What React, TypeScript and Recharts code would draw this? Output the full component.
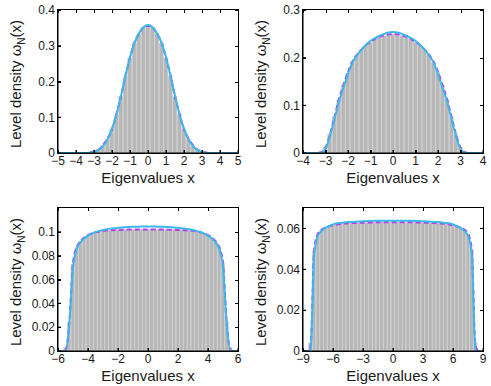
import { ComposedChart, Bar, Line, XAxis, YAxis } from "recharts";

// panel 1: x = -5..5, step 0.25
const xs1 = [
  -5, -4.75, -4.5, -4.25, -4, -3.75, -3.5, -3.25, -3, -2.75, -2.5, -2.25, -2, -1.75, -1.5, -1.25, -1, -0.75, -0.5, -0.25,
  0, 0.25, 0.5, 0.75, 1, 1.25, 1.5, 1.75, 2, 2.25, 2.5, 2.75, 3, 3.25, 3.5, 3.75, 4, 4.25, 4.5, 4.75, 5,
];
const hist1 = [
  0, 0, 0, 0, 0, 0, 0.001, 0.002, 0.005, 0.01, 0.021, 0.039, 0.067, 0.106, 0.159, 0.213, 0.265, 0.306, 0.333, 0.35,
  0.355, 0.351, 0.334, 0.307, 0.266, 0.215, 0.158, 0.108, 0.066, 0.04, 0.02, 0.011, 0.005, 0.002, 0.001, 0, 0, 0, 0, 0, 0,
];
const exact1 = [
  0, 0, 0, 0, 0, 0, 0, 0.001, 0.004, 0.009, 0.022, 0.04, 0.066, 0.11, 0.158, 0.218, 0.266, 0.31, 0.333, 0.352,
  0.356, 0.352, 0.333, 0.31, 0.266, 0.218, 0.158, 0.11, 0.066, 0.04, 0.022, 0.009, 0.004, 0.001, 0, 0, 0, 0, 0, 0, 0,
];
const approx1 = [
  0, 0, 0, 0, 0, 0, 0, 0.001, 0.003, 0.008, 0.019, 0.038, 0.068, 0.108, 0.16, 0.215, 0.268, 0.308, 0.335, 0.352,
  0.358, 0.352, 0.335, 0.308, 0.268, 0.215, 0.16, 0.108, 0.068, 0.038, 0.019, 0.008, 0.003, 0.001, 0, 0, 0, 0, 0, 0, 0,
];

// panel 2: x = -4..4, step 0.2
const xs2 = [
  -4, -3.8, -3.6, -3.4, -3.2, -3, -2.8, -2.6, -2.4, -2.2, -2, -1.8, -1.6, -1.4, -1.2, -1, -0.8, -0.6, -0.4, -0.2,
  0, 0.2, 0.4, 0.6, 0.8, 1, 1.2, 1.4, 1.6, 1.8, 2, 2.2, 2.4, 2.6, 2.8, 3, 3.2, 3.4, 3.6, 3.8, 4,
];
const hist2 = [
  0, 0, 0, 0.001, 0.004, 0.013, 0.04, 0.075, 0.112, 0.142, 0.168, 0.191, 0.205, 0.216, 0.225, 0.232, 0.238, 0.243, 0.246, 0.248,
  0.249, 0.248, 0.246, 0.244, 0.239, 0.232, 0.226, 0.217, 0.206, 0.19, 0.169, 0.143, 0.112, 0.076, 0.039, 0.012, 0.004, 0.001, 0, 0, 0,
];
const exact2 = [
  0, 0, 0, 0, 0.001, 0.011, 0.039, 0.076, 0.113, 0.143, 0.17, 0.192, 0.206, 0.217, 0.226, 0.233, 0.239, 0.244, 0.247, 0.249,
  0.249, 0.249, 0.247, 0.244, 0.239, 0.233, 0.226, 0.217, 0.206, 0.192, 0.17, 0.143, 0.113, 0.076, 0.039, 0.011, 0.001, 0, 0, 0, 0,
];
const approx2 = [
  0, 0, 0, 0, 0, 0.008, 0.036, 0.071, 0.108, 0.137, 0.165, 0.19, 0.205, 0.217, 0.227, 0.235, 0.241, 0.246, 0.25, 0.253,
  0.254, 0.253, 0.25, 0.246, 0.241, 0.235, 0.227, 0.217, 0.205, 0.19, 0.165, 0.137, 0.108, 0.071, 0.036, 0.008, 0, 0, 0, 0, 0,
];

// panel 3: x = -6..6, step 0.25
const xs3 = [
  -6, -5.75, -5.5, -5.25, -5, -4.75, -4.5, -4.25, -4, -3.75, -3.5, -3.25, -3, -2.75, -2.5, -2.25, -2, -1.75, -1.5, -1.25, -1, -0.75, -0.5, -0.25,
  0, 0.25, 0.5, 0.75, 1, 1.25, 1.5, 1.75, 2, 2.25, 2.5, 2.75, 3, 3.25, 3.5, 3.75, 4, 4.25, 4.5, 4.75, 5, 5.25, 5.5, 5.75, 6,
];
const hist3 = [
  0, 0.0005, 0.003, 0.024, 0.073, 0.0868, 0.0921, 0.0951, 0.0973, 0.0985, 0.0997, 0.1002, 0.1009, 0.1011, 0.1014, 0.1013, 0.1017, 0.1016, 0.1019, 0.1017, 0.102, 0.1018, 0.1021, 0.1019,
  0.102, 0.1021, 0.1018, 0.102, 0.1017, 0.102, 0.1016, 0.1018, 0.1015, 0.1016, 0.1012, 0.1012, 0.1007, 0.1004, 0.0995, 0.0987, 0.0971, 0.0953, 0.092, 0.0869, 0.0735, 0.025, 0.003, 0.0005, 0,
];
const exact3 = [
  0, 0, 0.0005, 0.023, 0.074, 0.087, 0.0922, 0.0952, 0.0972, 0.0986, 0.0996, 0.1003, 0.1008, 0.1011, 0.1013, 0.1015, 0.1016, 0.1017, 0.1018, 0.1019, 0.1019, 0.102, 0.102, 0.102,
  0.102, 0.102, 0.102, 0.102, 0.1019, 0.1019, 0.1018, 0.1017, 0.1016, 0.1015, 0.1013, 0.1011, 0.1008, 0.1003, 0.0996, 0.0986, 0.0972, 0.0952, 0.0922, 0.087, 0.074, 0.023, 0.0005, 0, 0,
];
const approx3 = [
  0, 0, 0, 0.022, 0.07, 0.0855, 0.0912, 0.0945, 0.0968, 0.0985, 0.0998, 0.1008, 0.1016, 0.1022, 0.1027, 0.1031, 0.1034, 0.1037, 0.1039, 0.1041, 0.1042, 0.1043, 0.1044, 0.1045,
  0.1045, 0.1045, 0.1044, 0.1043, 0.1042, 0.1041, 0.1039, 0.1037, 0.1034, 0.1031, 0.1027, 0.1022, 0.1016, 0.1008, 0.0998, 0.0985, 0.0968, 0.0945, 0.0912, 0.0855, 0.07, 0.022, 0, 0, 0,
];

// panel 4: x = -9..9, step 0.375
const xs4 = [
  -9, -8.625, -8.25, -7.875, -7.5, -7.125, -6.75, -6.375, -6, -5.625, -5.25, -4.875, -4.5, -4.125, -3.75, -3.375, -3, -2.625, -2.25, -1.875, -1.5, -1.125, -0.75, -0.375,
  0, 0.375, 0.75, 1.125, 1.5, 1.875, 2.25, 2.625, 3, 3.375, 3.75, 4.125, 4.5, 4.875, 5.25, 5.625, 6, 6.375, 6.75, 7.125, 7.5, 7.875, 8.25, 8.625, 9,
];
const hist4 = [
  0, 0.0005, 0.004, 0.049, 0.0572, 0.0593, 0.0604, 0.0611, 0.0617, 0.0619, 0.0622, 0.0624, 0.0625, 0.0627, 0.0626, 0.0628, 0.0627, 0.0629, 0.0628, 0.063, 0.0629, 0.0631, 0.0629, 0.063,
  0.0631, 0.0629, 0.0631, 0.0629, 0.063, 0.0628, 0.063, 0.0627, 0.0628, 0.0627, 0.0626, 0.0627, 0.0624, 0.0625, 0.0621, 0.062, 0.0616, 0.0612, 0.0603, 0.0594, 0.0571, 0.0495, 0.004, 0.0005, 0,
];
const exact4 = [
  0, 0, 0.002, 0.05, 0.0575, 0.0594, 0.0604, 0.0611, 0.0616, 0.0619, 0.0622, 0.0624, 0.0625, 0.0626, 0.0627, 0.0628, 0.0628, 0.0629, 0.0629, 0.063, 0.063, 0.063, 0.063, 0.063,
  0.063, 0.063, 0.063, 0.063, 0.063, 0.063, 0.0629, 0.0629, 0.0628, 0.0628, 0.0627, 0.0626, 0.0625, 0.0624, 0.0622, 0.0619, 0.0616, 0.0611, 0.0604, 0.0594, 0.0575, 0.05, 0.002, 0, 0,
];
const approx4 = [
  0, 0, 0, 0.0475, 0.0565, 0.0588, 0.0603, 0.0612, 0.062, 0.0625, 0.0627, 0.0629, 0.0631, 0.0632, 0.0633, 0.0634, 0.0635, 0.0636, 0.0636, 0.0637, 0.0637, 0.0638, 0.0638, 0.0638,
  0.0638, 0.0638, 0.0638, 0.0638, 0.0637, 0.0637, 0.0636, 0.0636, 0.0635, 0.0634, 0.0633, 0.0632, 0.0631, 0.0629, 0.0627, 0.0625, 0.062, 0.0612, 0.0603, 0.0588, 0.0565, 0.0475, 0, 0, 0,
];

const xTicks1 = [-5, -4, -3, -2, -1, 0, 1, 2, 3, 4, 5];
const yTicks1 = [0, 0.1, 0.2, 0.3, 0.4];
const xTicks2 = [-4, -3, -2, -1, 0, 1, 2, 3, 4];
const yTicks2 = [0, 0.1, 0.2, 0.3];
const xTicks3 = [-6, -4, -2, 0, 2, 4, 6];
const yTicks3 = [0, 0.02, 0.04, 0.06, 0.08, 0.1];
const xTicks4 = [-9, -6, -3, 0, 3, 6, 9];
const yTicks4 = [0, 0.02, 0.04, 0.06];

const FONT = "'Liberation Sans', Arial, Helvetica, sans-serif";
const INK = "#1a1a1a";
const fmt = (v: number) => (v < 0 ? "\u2212" + Math.abs(v) : String(v));

// plot box inside each 245x188 panel
const BOX = { left: 58, top: 10, width: 180, height: 143 };
const TICK = 3;

function YTitle() {
  return (
    <text transform="translate(21,84) rotate(-90)" textAnchor="middle" fontFamily={FONT} fontSize={15} fill={INK}>
      Level density ω<tspan fontSize={10} dy={4}>N</tspan>
      <tspan dy={-4}>(x)</tspan>
    </text>
  );
}

// box with inward ticks on all four sides, as plain bordered divs
function Frame({ xDomain, xTicks, yDomain, yTicks }: { xDomain: [number, number]; xTicks: number[]; yDomain: [number, number]; yTicks: number[] }) {
  const { left, top, width, height } = BOX;
  const sx = (v: number) => Math.round(((v - xDomain[0]) / (xDomain[1] - xDomain[0])) * width);
  const sy = (v: number) => Math.round(height - ((v - yDomain[0]) / (yDomain[1] - yDomain[0])) * height);
  const mark = { position: "absolute" as const, background: "#000" };
  return (
    <div
      style={{
        position: "absolute",
        left: left - 1,
        top: top - 1,
        width,
        height,
        border: "1px solid #000",
        zIndex: 5,
        pointerEvents: "none",
      }}
    >
      {xTicks.map((t) => (
        <div key={"xb" + t} style={{ ...mark, left: sx(t) - 0.5, top: height - TICK, width: 1, height: TICK }} />
      ))}
      {xTicks.map((t) => (
        <div key={"xt" + t} style={{ ...mark, left: sx(t) - 0.5, top: 0, width: 1, height: TICK }} />
      ))}
      {yTicks.map((t) => (
        <div key={"yl" + t} style={{ ...mark, left: 0, top: sy(t) - 0.5, width: TICK, height: 1 }} />
      ))}
      {yTicks.map((t) => (
        <div key={"yr" + t} style={{ ...mark, left: width - TICK, top: sy(t) - 0.5, width: TICK, height: 1 }} />
      ))}
    </div>
  );
}

type PanelProps = {
  xs: number[];
  hist: number[];
  exact: number[];
  approx: number[];
  xDomain: [number, number];
  xTicks: number[];
  yDomain: [number, number];
  yTicks: number[];
  barSize: number;
  left: number;
  top: number;
};

function DensityPanel({ xs, hist, exact, approx, xDomain, xTicks, yDomain, yTicks, barSize, left, top }: PanelProps) {
  const rows = xs.map((x, i) => ({ x, hist: hist[i], exact: exact[i], approx: approx[i] }));
  const tickStyle = { fontSize: 12, fill: INK, fontFamily: FONT };
  return (
    <div style={{ position: "absolute", left, top, width: 245, height: 188 }}>
      <ComposedChart width={245} height={188} data={rows} margin={{ top: 10, right: 7, bottom: 5, left: 18 }}>
        <XAxis
          dataKey="x"
          type="number"
          domain={xDomain}
          ticks={xTicks}
          tickFormatter={fmt}
          height={30}
          tickSize={-3}
          tickMargin={6}
          tick={tickStyle}
          stroke="#000"
          label={{ value: "Eigenvalues x", position: "insideBottom", offset: 0, fontSize: 15, fill: INK, fontFamily: FONT }}
        />
        <YAxis
          type="number"
          domain={yDomain}
          ticks={yTicks}
          width={40}
          tickSize={-3}
          tickMargin={6}
          tick={tickStyle}
          stroke="#000"
        />
        <Bar dataKey="hist" barSize={barSize} fill="#b7b7b7" stroke="#cdcdcd" strokeWidth={0.6} isAnimationActive={false} />
        <Line
          dataKey="exact"
          type="monotone"
          stroke="#b53cf0"
          strokeWidth={2}
          strokeDasharray="5 3"
          dot={false}
          isAnimationActive={false}
        />
        <Line dataKey="approx" type="monotone" stroke="#3cb8ea" strokeWidth={2} dot={false} isAnimationActive={false} />
      </ComposedChart>
      <svg width={245} height={188} style={{ position: "absolute", left: 0, top: 0, pointerEvents: "none" }}>
        <YTitle />
      </svg>
      <Frame xDomain={xDomain} xTicks={xTicks} yDomain={yDomain} yTicks={yTicks} />
    </div>
  );
}

export default function App() {
  return (
    <div style={{ position: "absolute", left: 0, top: 0, width: 491, height: 386, overflow: "hidden", background: "#fff" }}>
      <DensityPanel xs={xs1} hist={hist1} exact={exact1} approx={approx1} xDomain={[-5, 5]} xTicks={xTicks1} yDomain={[0, 0.4]} yTicks={yTicks1} barSize={4.5} left={0} top={0} />
      <DensityPanel xs={xs2} hist={hist2} exact={exact2} approx={approx2} xDomain={[-4, 4]} xTicks={xTicks2} yDomain={[0, 0.3]} yTicks={yTicks2} barSize={4.5} left={245} top={0} />
      <DensityPanel xs={xs3} hist={hist3} exact={exact3} approx={approx3} xDomain={[-6, 6]} xTicks={xTicks3} yDomain={[0, 0.12]} yTicks={yTicks3} barSize={3.75} left={0} top={198} />
      <DensityPanel xs={xs4} hist={hist4} exact={exact4} approx={approx4} xDomain={[-9, 9]} xTicks={xTicks4} yDomain={[0, 0.07]} yTicks={yTicks4} barSize={3.75} left={245} top={198} />
    </div>
  );
}
